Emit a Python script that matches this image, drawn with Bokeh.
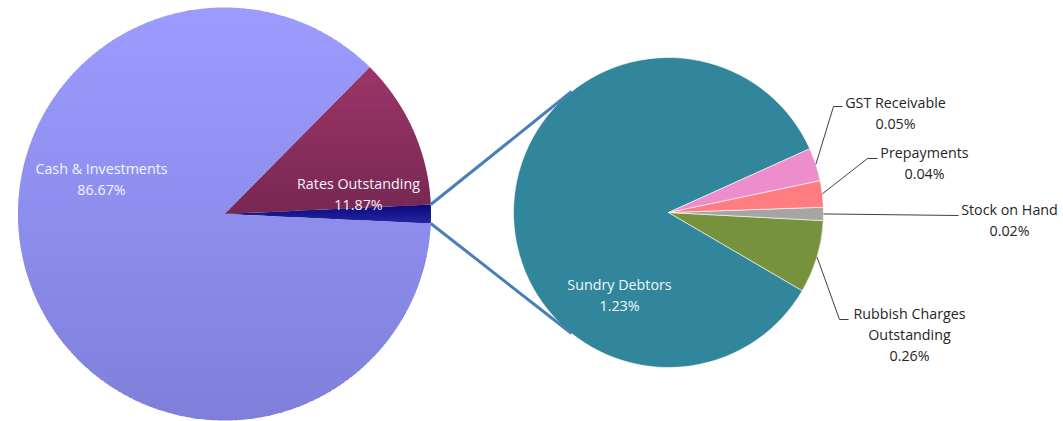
import math
from bokeh.plotting import figure
from bokeh.models import Range1d
from bokeh.core.properties import value
from bokeh.embed import file_html
from bokeh.resources import INLINE

# ---------------- data ----------------
main_labels = ["Other", "Rates Outstanding", "Cash & Investments"]
main_values = [1.46, 11.87, 86.67]
main_pct_text = ["", "11.87%", "86.67%"]
# (top colour, bottom colour) of each slice's vertical gradient
main_grad = [("#08087F", "#26269E"), ("#9C3569", "#772852"), ("#9C9CFF", "#7F7FDB")]

sub_labels = ["Sundry Debtors", "Rubbish Charges\nOutstanding", "Stock on Hand", "Prepayments", "GST Receivable"]
sub_values = [1.23, 0.11, 0.02, 0.04, 0.05]
sub_pct_text = ["1.23%", "0.26%", "0.02%", "0.04%", "0.05%"]
sub_colors = ["#31869B", "#76923C", "#A5A5A5", "#FF7C80", "#EE8DCB"]

# ---------------- layout (image pixel coordinates, y down) ----------------
IMG_H = 421
W, H = 1063, 421
def Y(v):
    return IMG_H - v

L_CX, L_CY, L_R = 224, 213.5, 206.5
R_CX, R_CY, R_R = 668, 212, 155
SUB_START = 24.3  # degrees

p = figure(width=W, height=H, output_backend="svg", toolbar_location=None,
           x_range=Range1d(0, W), y_range=Range1d(IMG_H - H, IMG_H),
           min_border=0, outline_line_color=None)
p.axis.visible = False
p.grid.visible = False
p.background_fill_color = "white"
p.border_fill_color = "white"


def hex2rgb(h):
    return tuple(int(h[i:i + 2], 16) for i in (1, 3, 5))


def mix(c1, c2, t):
    a, b = hex2rgb(c1), hex2rgb(c2)
    return "#%02x%02x%02x" % tuple(round(a[k] + (b[k] - a[k]) * t) for k in range(3))


def clip(poly, yv, keep_above):
    # keep points with y >= yv (keep_above) or y <= yv, image coords
    out = []
    n = len(poly)
    for i in range(n):
        cur, prv = poly[i], poly[i - 1]
        cin = cur[1] >= yv if keep_above else cur[1] <= yv
        pin = prv[1] >= yv if keep_above else prv[1] <= yv
        if cin:
            if not pin:
                t = (yv - prv[1]) / (cur[1] - prv[1])
                out.append((prv[0] + t * (cur[0] - prv[0]), yv))
            out.append(cur)
        elif pin:
            t = (yv - prv[1]) / (cur[1] - prv[1])
            out.append((prv[0] + t * (cur[0] - prv[0]), yv))
    return out


def sector_poly(cx, cy, r, a0, a1):
    n = max(4, int(abs(a1 - a0) / 0.5))
    pts = [(cx, cy)]
    for k in range(n + 1):
        a = math.radians(a0 + (a1 - a0) * k / n)
        pts.append((cx + r * math.cos(a), cy - r * math.sin(a)))
    return pts


# main pie: "Other" slice centred on 0 degrees, then counter-clockwise
tot = sum(main_values)
ang = -main_values[0] / tot * 360 / 2
main_start = []
for v in main_values:
    main_start.append(ang)
    ang += v / tot * 360
main_end = main_start[1:] + [main_start[0] + 360]

STRIP = 3
xs_all, ys_all, cols = [], [], []
for i in range(len(main_values)):
    poly = sector_poly(L_CX, L_CY, L_R, main_start[i], main_end[i])
    ytop = min(q[1] for q in poly)
    ybot = max(q[1] for q in poly)
    y0 = ytop
    while y0 < ybot:
        y1 = min(y0 + STRIP, ybot)
        part = clip(clip(poly, y0 - 0.4, True), y1 + 0.4, False)
        if len(part) >= 3:
            t = ((y0 + y1) / 2 - ytop) / max(ybot - ytop, 1)
            xs_all.append([q[0] for q in part])
            ys_all.append([Y(q[1]) for q in part])
            cols.append(mix(main_grad[i][0], main_grad[i][1], t))
        y0 = y1
p.patches(xs=xs_all, ys=ys_all, fill_color=cols, line_color=None)

# sub pie
stot = sum(sub_values)
ang = SUB_START
sub_start = []
for v in sub_values:
    sub_start.append(ang)
    ang += v / stot * 360
sub_end = sub_start[1:] + [SUB_START + 360]
p.wedge(x=[R_CX] * 5, y=[Y(R_CY)] * 5, radius=R_R,
        start_angle=[math.radians(a) for a in sub_start],
        end_angle=[math.radians(a) for a in sub_end],
        fill_color=sub_colors, line_color="white", line_width=0.6)

# connector lines between pies
oth_half = main_values[0] / tot * 360 / 2
CONN_ANG = 51.3
for s in (1, -1):
    a1 = math.radians(s * oth_half)
    a2 = math.radians(180 - s * CONN_ANG)
    p.line([L_CX + L_R * math.cos(a1), R_CX + R_R * math.cos(a2)],
           [Y(L_CY) + L_R * math.sin(a1), Y(R_CY) + R_R * math.sin(a2)],
           line_color="#4A7EBB", line_width=3)

# leader lines for the small slices
elbows = {
    4: [(833, 106), (842, 106)],
    3: [(867, 158), (877, 158)],
    2: [(958, 215)],
    1: [(839, 319), (848, 319)],
}
for i, pts in elbows.items():
    mid = math.radians((sub_start[i] + sub_end[i]) / 2)
    xs = [R_CX + R_R * math.cos(mid)] + [q[0] for q in pts]
    ys = [Y(R_CY) + R_R * math.sin(mid)] + [Y(q[1]) for q in pts]
    p.line(xs, ys, line_color="#404040", line_width=1)

FONT = value("Open Sans")
FS = "14.3px"
LH = 21

def label(x, y0, lines, color):
    for k, t in enumerate(lines):
        p.text(x=[x], y=[Y(y0 + k * LH)], text=[t], text_font=FONT, text_font_size=FS,
               text_color=color, text_align="center", text_baseline="middle")

label(101, 168, [main_labels[2], main_pct_text[2]], "#F4F4FF")
label(358, 183, [main_labels[1], main_pct_text[1]], "#F4F4FF")
label(619, 284, [sub_labels[0], sub_pct_text[0]], "#F2F8FA")
label(895, 102, sub_labels[4].split("\n") + [sub_pct_text[4]], "#262626")
label(924, 152, sub_labels[3].split("\n") + [sub_pct_text[3]], "#262626")
label(1009, 209, sub_labels[2].split("\n") + [sub_pct_text[2]], "#262626")
label(909, 313, sub_labels[1].split("\n") + [sub_pct_text[1]], "#262626")

open("out.html", "w").write(file_html(p, INLINE))
